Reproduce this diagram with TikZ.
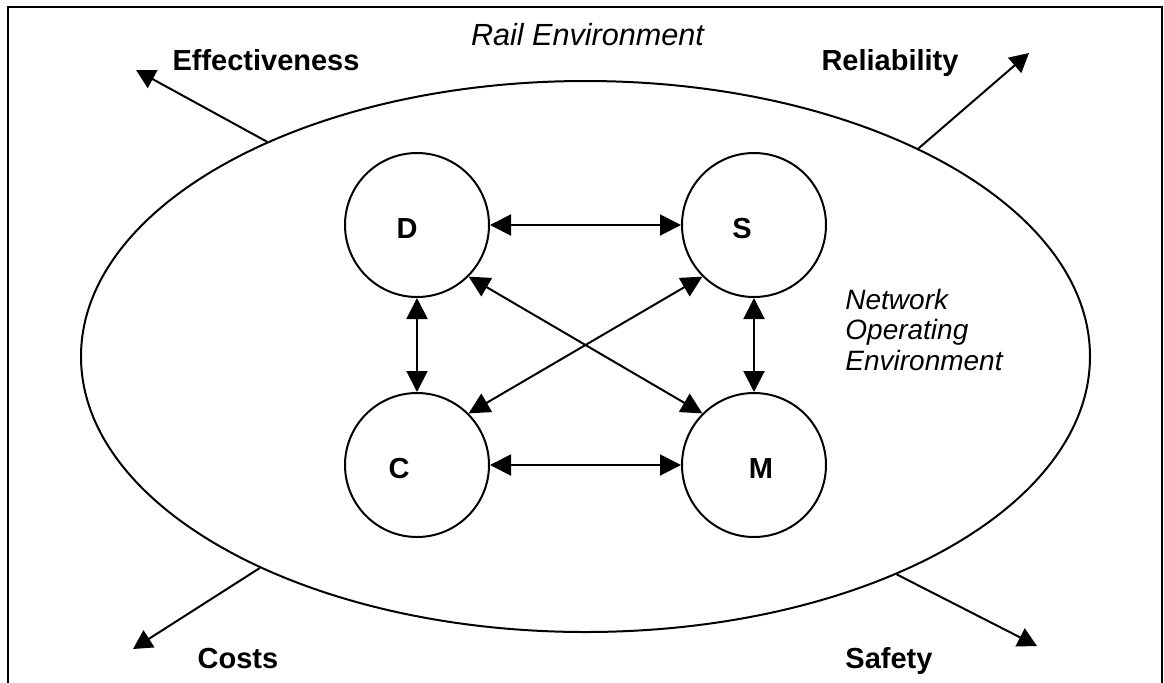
\documentclass[tikz,border=0pt]{standalone}
\usepackage{fontspec}
\setmainfont{Liberation Sans}
\usetikzlibrary{arrows.meta,shapes.geometric}
\begin{document}
\begin{tikzpicture}[x=0.5pt,y=-0.5pt,
  line/.style={line width=1pt},
  biarrow/.style={line, {Triangle[length=10.5pt,width=10.5pt]}-{Triangle[length=10.5pt,width=10.5pt]}},
  outarrow/.style={line, -{Triangle[length=9.5pt,width=10pt]}},
  agent/.style={circle, draw, line width=1pt, minimum size=72pt, inner sep=0pt},
  boldtext/.style={font=\fontsize{14.5}{17}\selectfont\bfseries, inner sep=0pt, anchor=base},
  envtext/.style={font=\fontsize{14}{17}\selectfont\itshape, inner sep=0pt}
]
\clip (0,0) rectangle (1164,682);

% outer frame (runs past the lower edge)
\draw[line width=1pt] (8,7) rectangle (1162,720);

% network operating environment
\node[ellipse, draw, line width=1pt, minimum width=504.5pt, minimum height=275.5pt, inner sep=0pt] (net) at (585.5,356.5) {};

% the four agents
\node[agent] (D) at (417,225) {};
\node[agent] (S) at (754,225) {};
\node[agent] (C) at (417,465) {};
\node[agent] (M) at (754,465) {};
\node[boldtext] (Dl) at (407,238) {D};
\node[boldtext] (Sl) at (742,238) {S};
\node[boldtext] (Cl) at (399,478) {C};
\node[boldtext] (Ml) at (761,478) {M};

% interactions
\draw[biarrow] (D.east) -- (S.west);
\draw[biarrow] (C.east) -- (M.west);
\draw[biarrow] (D.south) -- (C.north);
\draw[biarrow] (S.south) -- (M.north);
\draw[biarrow] (D.-45) -- (M.135);
\draw[biarrow] (S.-135) -- (C.45);

% outcomes
\coordinate (effTip) at (136,70);
\coordinate (relTip) at (1029,53);
\coordinate (cosTip) at (133,649);
\coordinate (safTip) at (1037,646);
\draw[outarrow] (net.146) -- (effTip);
\draw[outarrow] (net.32.7) -- (relTip);
\draw[outarrow] (net.213.2) -- (cosTip);
\draw[outarrow] (net.325.8) -- (safTip);

\node[boldtext] (eff) at (266,70) {Effectiveness};
\node[boldtext] (rel) at (890,70) {Reliability};
\node[boldtext] (cos) at (238,668) {Costs};
\node[boldtext] (saf) at (889,668) {Safety};

% environment labels
\node[envtext, font=\fontsize{15.3}{18}\selectfont\itshape, anchor=base] (rail) at (587.5,45) {Rail Environment};
\node[envtext, anchor=base west] (net1) at (845,309) {Network};
\node[envtext, anchor=base west] (net2) at (845,339.5) {Operating};
\node[envtext, anchor=base west] (net3) at (845,370) {Environment};
\end{tikzpicture}
\end{document}
